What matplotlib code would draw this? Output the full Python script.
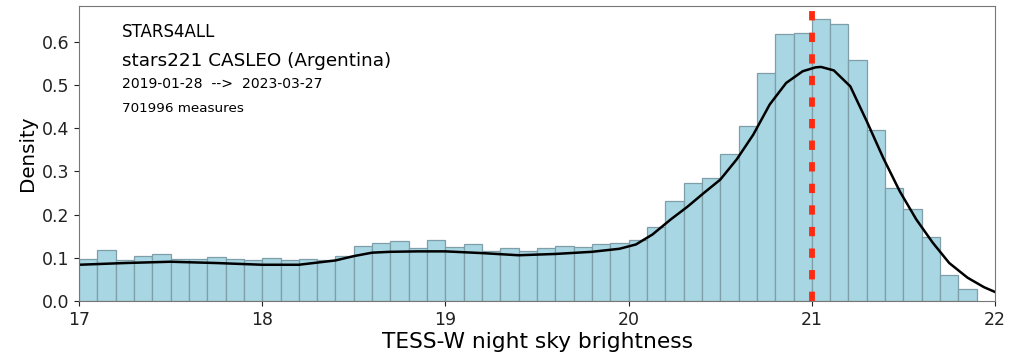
import numpy as np
import matplotlib.pyplot as plt

# histogram: left edges of 0.1 mag bins and their density
bin_left = np.round(np.arange(17.0, 21.85, 0.1), 1)
density = [0.098, 0.119, 0.096, 0.104, 0.108, 0.098, 0.097, 0.101, 0.098, 0.095,
           0.099, 0.094, 0.097, 0.094, 0.104, 0.128, 0.135, 0.138, 0.122, 0.141,
           0.126, 0.133, 0.115, 0.122, 0.116, 0.122, 0.128, 0.124, 0.131, 0.135,
           0.142, 0.172, 0.231, 0.274, 0.285, 0.341, 0.406, 0.529, 0.618, 0.621,
           0.654, 0.642, 0.557, 0.397, 0.262, 0.214, 0.149, 0.061, 0.029]

# kernel density estimate
kde_x = [17.0, 17.25, 17.5, 17.75, 18.0, 18.2, 18.4, 18.5, 18.6, 18.7, 18.85,
         19.0, 19.2, 19.4, 19.6, 19.8, 19.95, 20.04, 20.13, 20.23, 20.32, 20.41,
         20.5, 20.59, 20.68, 20.77, 20.86, 20.95, 21.02, 21.05, 21.12, 21.21,
         21.3, 21.39, 21.48, 21.57, 21.66, 21.75, 21.85, 21.94, 22.0]
kde_y = [0.084, 0.088, 0.091, 0.088, 0.084, 0.084, 0.094, 0.104, 0.112, 0.114,
         0.115, 0.115, 0.111, 0.106, 0.109, 0.114, 0.121, 0.131, 0.154, 0.189,
         0.218, 0.250, 0.281, 0.328, 0.385, 0.455, 0.505, 0.532, 0.541, 0.542,
         0.534, 0.497, 0.416, 0.331, 0.254, 0.189, 0.135, 0.088, 0.054, 0.032,
         0.021]

peak = 21.0
title = "STARS4ALL"
station = "stars221 CASLEO (Argentina)"
period = "2019-01-28  -->  2023-03-27"
n_measures = 701996

fig = plt.figure(figsize=(10.19, 3.55), dpi=100)
ax = fig.add_axes([0.0775, 0.152, 0.899, 0.831])

ax.bar(bin_left, density, width=0.1, align='edge', color='#a9d6e3',
       edgecolor='#7e9ea8', linewidth=0.9)
ax.plot(kde_x, kde_y, color='black', linewidth=1.8, solid_joinstyle='round')
ax.axvline(peak, color='#ff2a10', linestyle=(0, (1.6, 2.1)), linewidth=4.2)

ax.set_xlim(17, 22)
ax.set_ylim(0, 0.683)
ax.set_xticks([17, 18, 19, 20, 21, 22])
ax.set_yticks([0.0, 0.1, 0.2, 0.3, 0.4, 0.5, 0.6])
ax.tick_params(labelsize=12.5, colors='#222222')
for s in ax.spines.values():
    s.set_color('#777777')

ax.set_xlabel("TESS-W night sky brightness", fontsize=15.7, labelpad=2)
ax.set_ylabel("Density", fontsize=14.3, labelpad=3)

ax.text(0.047, 0.912, title, transform=ax.transAxes, fontsize=12, va='center')
ax.text(0.047, 0.814, station, transform=ax.transAxes, fontsize=13.2, va='center')
ax.text(0.047, 0.736, period, transform=ax.transAxes, fontsize=10.1, va='center')
ax.text(0.047, 0.654, f"{n_measures} measures", transform=ax.transAxes,
        fontsize=9.7, va='center')

fig.savefig("out.png", dpi=100)
